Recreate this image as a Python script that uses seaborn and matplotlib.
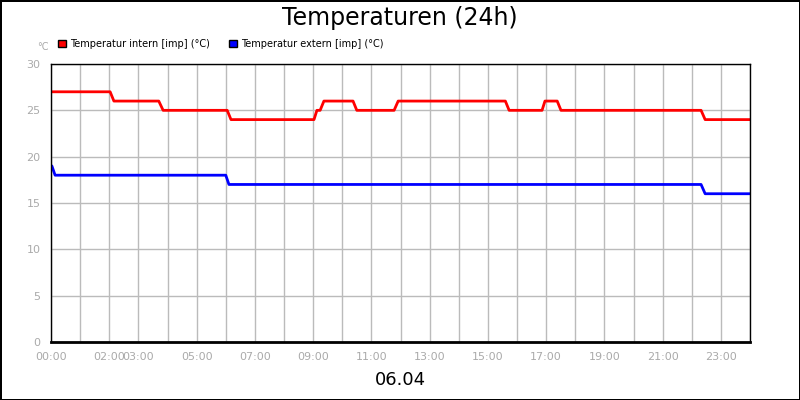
import matplotlib
matplotlib.use("Agg")
import matplotlib.pyplot as plt
import seaborn as sns
import pandas as pd
from matplotlib.patches import Patch

# data (hours since 00:00)
t_in = [0, 2.03, 2.16, 3.7, 3.85, 6.05, 6.18, 9.03, 9.13, 9.24, 9.37, 10.37, 10.5, 11.78, 11.92,
        15.6, 15.73, 16.86, 16.96, 17.38, 17.51, 22.32, 22.46, 24]
v_in = [27, 27, 26, 26, 25, 25, 24, 24, 25, 25, 26, 26, 25, 25, 26,
        26, 25, 25, 26, 26, 25, 25, 24, 24]
t_ex = [0.03, 0.14, 6.0, 6.11, 22.32, 22.46, 24]
v_ex = [19, 18, 18, 17, 17, 16, 16]
tick_pos = [0, 2, 3, 5, 7, 9, 11, 13, 15, 17, 19, 21, 23]
tick_lab = ["00:00", "02:00", "03:00", "05:00", "07:00", "09:00", "11:00", "13:00",
            "15:00", "17:00", "19:00", "21:00", "23:00"]
names = ["Temperatur intern [imp] (°C)", "Temperatur extern [imp] (°C)"]
colors = ["#ff0000", "#0000ff"]

sns.set_style("white")
plt.rcParams["text.color"] = "black"
fig = plt.figure(figsize=(8, 4), dpi=100)
fig.patch.set_edgecolor("black")
fig.patch.set_linewidth(2)
ax = fig.add_axes([51/800, 1-342/400, 699/800, (342-64)/400])
sns.lineplot(x=t_in, y=v_in, ax=ax, color=colors[0], lw=2, estimator=None, sort=False)
sns.lineplot(x=t_ex, y=v_ex, ax=ax, color=colors[1], lw=2, estimator=None, sort=False)
ax.set_xlim(0, 24)
ax.set_ylim(0, 30)
ax.set_xticks(range(25), minor=True)
ax.set_xticks(tick_pos)
ax.set_xticklabels(tick_lab)
ax.set_yticks(range(0, 31, 5))
ax.grid(True, which="both", axis="x", color="#bbbbbb", lw=1)
ax.grid(True, which="major", axis="y", color="#bbbbbb", lw=1)
ax.tick_params(colors="#aaaaaa", labelsize=8, length=4, which="both")
ax.tick_params(axis="x", which="minor", length=0)
for s in ax.spines.values():
    s.set_color("black")
    s.set_linewidth(1)
ax.spines["bottom"].set_linewidth(2)
ax.set_xlabel(""); ax.set_ylabel("")
fig.text(0.5, 0.955, "Temperaturen (24h)", ha="center", va="center", fontsize=17, color="black")
fig.text(0.5, 0.05, "06.04", ha="center", va="center", fontsize=13, color="black")
fig.text(37/800, 1-47/400, "°C", fontsize=7, color="#aaaaaa", va="center")
handles = [Patch(facecolor=c, edgecolor="black", label=n) for c, n in zip(colors, names)]
fig.legend(handles=handles, loc="center left", bbox_to_anchor=(58/800, 1-44/400), ncol=2,
           frameon=False, fontsize=7, handlelength=0.8, handleheight=0.8, handletextpad=0.4,
           columnspacing=2.0, borderaxespad=0, borderpad=0, labelcolor="black")
fig.savefig("out.png", dpi=100, edgecolor=fig.get_edgecolor())
